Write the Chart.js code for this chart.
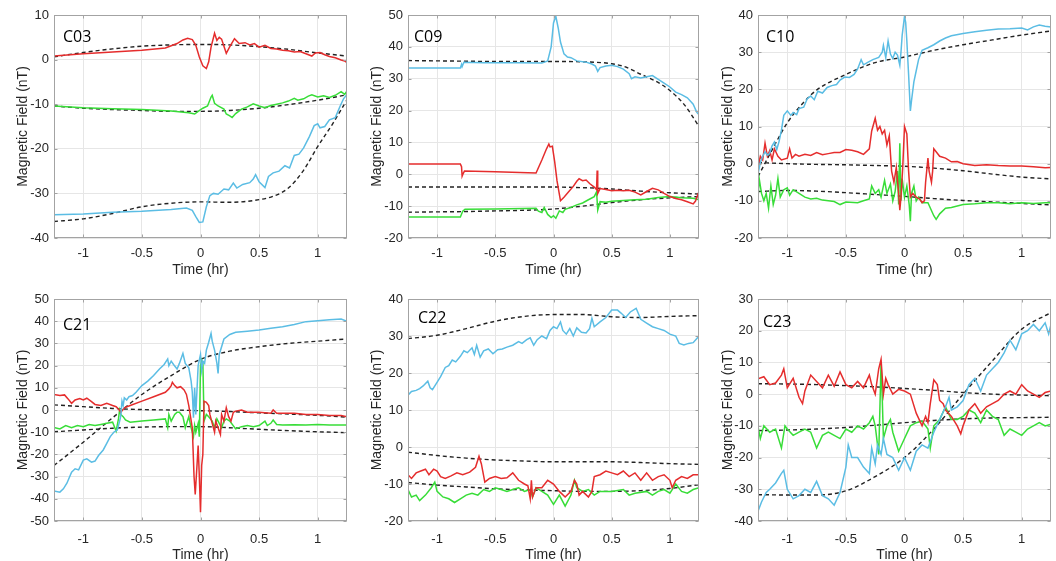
<!DOCTYPE html>
<html><head><meta charset="utf-8">
<script src="https://cdn.jsdelivr.net/npm/chart.js@4.4.1/dist/chart.umd.min.js"></script>
<style>
html,body{margin:0;padding:0;background:#fff;}
#wrap{position:relative;width:1056px;height:561px;overflow:hidden;background:#fff;}
#wrap canvas{position:absolute;}
.lbl{position:absolute;font-family:'Open Sans',sans-serif;font-size:16px;line-height:16px;color:#000;white-space:nowrap;}
</style></head><body><div id="wrap"></div>
<script>
// ---------- tick labels ----------
const xTicks = [-1, -0.5, 0, 0.5, 1];
const yTicksC03 = [-40, -30, -20, -10, 0, 10];
const yTicksC09 = [-20, -10, 0, 10, 20, 30, 40, 50];
const yTicksC10 = [-20, -10, 0, 10, 20, 30, 40];
const yTicksC21 = [-50, -40, -30, -20, -10, 0, 10, 20, 30, 40, 50];
const yTicksC22 = [-20, -10, 0, 10, 20, 30, 40];
const yTicksC23 = [-40, -30, -20, -10, 0, 10, 20, 30];
const panelNames = ['C03', 'C09', 'C10', 'C21', 'C22', 'C23'];

// ---------- C03 ----------
const c03_red = [[-1.25,0.8],[-1,1.3],[-0.75,1.7],[-0.5,2.1],[-0.3,2.6],[-0.2,3.6],[-0.15,4.4],[-0.11,4.8],[-0.07,4.5],[-0.04,3.2],[-0.01,0.6],[0.02,-1.4],[0.05,-2.0],[0.07,-0.5],[0.09,2.8],[0.12,5.9],[0.14,4.3],[0.16,5.0],[0.18,4.6],[0.2,3.0],[0.22,1.4],[0.25,2.9],[0.29,4.7],[0.33,3.6],[0.38,3.8],[0.42,3.3],[0.46,3.6],[0.5,2.8],[0.55,3.2],[0.6,2.5],[0.65,2.4],[0.7,2.1],[0.75,2.0],[0.8,1.7],[0.85,1.8],[0.9,1.3],[0.95,0.8],[0.98,1.5],[1.02,1.6],[1.06,1.1],[1.1,0.7],[1.15,0.4],[1.2,-0.1],[1.23,-0.3],[1.25,-0.7]];
const c03_green = [[-1.25,-10.4],[-1,-10.8],[-0.75,-11],[-0.5,-11.2],[-0.25,-11.5],[-0.1,-11.9],[-0.05,-12.2],[-0.02,-11.6],[0.02,-10.9],[0.06,-10.4],[0.09,-8.4],[0.1,-8.0],[0.12,-9.8],[0.15,-10.4],[0.2,-11.1],[0.22,-12.2],[0.25,-12.6],[0.27,-13.0],[0.3,-12.1],[0.35,-11.1],[0.4,-10.6],[0.45,-9.9],[0.5,-10.4],[0.55,-10.8],[0.6,-10.3],[0.65,-10.0],[0.7,-9.7],[0.75,-9.3],[0.8,-8.7],[0.83,-9.1],[0.88,-8.8],[0.92,-8.2],[0.95,-7.9],[1.0,-8.4],[1.05,-8.1],[1.1,-8.5],[1.15,-8.0],[1.2,-7.2],[1.23,-7.8],[1.25,-7.0]];
const c03_cyan = [[-1.25,-34.8],[-1,-34.6],[-0.75,-34.2],[-0.5,-34.0],[-0.25,-33.6],[-0.12,-33.3],[-0.07,-33.8],[-0.04,-35.2],[-0.01,-36.5],[0.02,-36.4],[0.05,-33.0],[0.08,-30.5],[0.11,-30.0],[0.15,-30.2],[0.2,-29.0],[0.24,-29.2],[0.28,-27.7],[0.31,-28.8],[0.36,-28.0],[0.42,-27.6],[0.45,-26.8],[0.47,-25.8],[0.5,-27.4],[0.55,-28.7],[0.58,-26.2],[0.62,-25.4],[0.67,-25.0],[0.72,-23.8],[0.76,-24.3],[0.8,-21.5],[0.84,-21.2],[0.88,-19.8],[0.93,-17.2],[0.97,-14.8],[1.0,-14.4],[1.02,-15.3],[1.06,-15.0],[1.1,-13.5],[1.15,-13.0],[1.19,-10.5],[1.22,-8.8],[1.25,-7.8]];
const c03_fitRed = [[-1.25,0.6],[-1,1.6],[-0.75,2.4],[-0.5,3.0],[-0.25,3.3],[0,3.4],[0.25,3.3],[0.5,2.9],[0.75,2.3],[1,1.5],[1.25,0.8]];
const c03_fitGreen = [[-1.25,-10.4],[-1,-10.9],[-0.75,-11.2],[-0.5,-11.4],[-0.25,-11.6],[0,-11.6],[0.25,-11.4],[0.5,-10.9],[0.75,-10.1],[1,-9.1],[1.25,-7.9]];
const c03_fitCyan = [[-1.25,-36.3],[-1,-35.7],[-0.75,-34.5],[-0.5,-33.0],[-0.25,-32.2],[0,-31.9],[0.25,-32.0],[0.5,-31.4],[0.625,-30.6],[0.75,-28.8],[0.875,-25.0],[1,-19.5],[1.125,-14.5],[1.25,-9.0]];

// ---------- C09 ----------
const c09_red = [[-1.25,3.2],[-0.8,3.2],[-0.79,2.4],[-0.785,-0.6],[-0.775,0.3],[-0.765,1.0],[-0.5,0.8],[-0.15,0.4],[-0.1,4.5],[-0.06,8.0],[-0.04,9.5],[-0.03,8.6],[-0.01,8.8],[0.01,4.0],[0.03,-2.0],[0.06,-8.3],[0.09,-7.2],[0.13,-5.5],[0.17,-3.8],[0.2,-2.2],[0.22,-1.4],[0.25,-2.0],[0.28,-1.8],[0.31,-2.9],[0.35,-4.0],[0.37,-4.8],[0.375,1.2],[0.38,-6.0],[0.4,-4.5],[0.45,-4.8],[0.5,-5.2],[0.55,-5.0],[0.6,-5.2],[0.65,-5.0],[0.7,-5.6],[0.75,-6.5],[0.8,-5.4],[0.85,-4.4],[0.9,-4.9],[0.95,-6.0],[1.0,-7.0],[1.05,-7.6],[1.1,-8.0],[1.15,-8.6],[1.2,-9.3],[1.22,-8.4],[1.25,-5.4]];
const c09_green = [[-1.25,-13.4],[-0.8,-13.4],[-0.78,-11.6],[-0.76,-11.0],[-0.5,-10.9],[-0.15,-10.7],[-0.13,-11.6],[-0.1,-12.0],[-0.08,-10.4],[-0.05,-12.6],[-0.02,-13.6],[0,-13.0],[0.02,-13.8],[0.05,-11.5],[0.08,-12.0],[0.1,-11.0],[0.15,-10.4],[0.2,-9.6],[0.25,-9.0],[0.3,-8.0],[0.35,-7.0],[0.37,-5.5],[0.38,-11.2],[0.4,-8.6],[0.45,-8.8],[0.5,-8.5],[0.6,-8.2],[0.7,-8.0],[0.8,-7.8],[0.9,-7.3],[1.0,-7.0],[1.1,-7.4],[1.2,-7.5],[1.25,-8.0]];
const c09_cyan = [[-1.25,33.4],[-0.8,33.4],[-0.79,34.5],[-0.785,33.8],[-0.77,35.2],[-0.6,35.0],[-0.3,35.0],[-0.1,34.9],[-0.05,35.6],[-0.02,40.0],[0,47.5],[0.02,49.6],[0.04,46.0],[0.06,41.5],[0.09,37.8],[0.12,36.8],[0.15,36.6],[0.2,35.6],[0.28,35.2],[0.33,34.6],[0.36,34.0],[0.38,32.3],[0.4,33.5],[0.45,34.0],[0.5,34.2],[0.55,33.8],[0.6,33.0],[0.65,31.6],[0.67,30.0],[0.7,30.6],[0.75,30.2],[0.8,30.6],[0.85,31.0],[0.9,29.8],[0.95,28.6],[1.0,27.4],[1.05,25.8],[1.1,25.0],[1.15,24.0],[1.2,22.0],[1.23,19.5],[1.25,18.7]];
const c09_fitRed = [[-1.25,-4.0],[-1,-4.0],[-0.75,-4.0],[-0.5,-4.0],[-0.25,-4.0],[0,-4.0],[0.25,-4.2],[0.5,-4.6],[0.75,-5.3],[1,-5.8],[1.25,-6.2]];
const c09_fitGreen = [[-1.25,-11.9],[-1,-11.8],[-0.75,-11.7],[-0.5,-11.5],[-0.25,-11.3],[0,-10.9],[0.25,-10.0],[0.5,-8.9],[0.75,-8.0],[1,-7.4],[1.25,-7.0]];
const c09_fitCyan = [[-1.25,35.7],[-1,35.6],[-0.75,35.5],[-0.5,35.4],[-0.25,35.4],[0,35.4],[0.25,35.3],[0.5,34.7],[0.625,33.6],[0.75,31.4],[0.875,29.3],[1,26.3],[1.125,21.8],[1.25,15.0]];

// ---------- C10 ----------
const c10_red = [[-1.25,-1.0],[-1.23,2.0],[-1.21,1.0],[-1.19,5.5],[-1.17,2.0],[-1.15,3.5],[-1.13,1.0],[-1.11,4.0],[-1.08,2.0],[-1.05,1.0],[-1.0,1.5],[-0.98,4.0],[-0.96,1.5],[-0.93,2.5],[-0.9,2.0],[-0.85,2.5],[-0.8,2.2],[-0.75,3.0],[-0.7,2.4],[-0.65,2.7],[-0.6,3.0],[-0.55,3.0],[-0.5,3.8],[-0.45,3.6],[-0.4,3.2],[-0.35,2.5],[-0.3,4.0],[-0.28,8.8],[-0.25,12.2],[-0.23,9.0],[-0.21,10.0],[-0.19,8.0],[-0.17,9.0],[-0.15,5.0],[-0.13,7.5],[-0.11,-2.0],[-0.09,-5.0],[-0.07,-1.0],[-0.05,-8.0],[-0.04,-12.5],[-0.03,-9.0],[-0.015,-1.0],[0,10.0],[0.02,8.0],[0.035,-2.0],[0.05,-9.0],[0.07,-8.0],[0.1,-9.0],[0.13,-9.5],[0.15,-10.5],[0.17,-10.0],[0.18,-5.0],[0.2,1.5],[0.21,-2.0],[0.23,-5.0],[0.24,-2.0],[0.25,4.0],[0.3,2.0],[0.35,1.5],[0.4,0.5],[0.45,0.6],[0.5,0.0],[0.6,-0.5],[0.7,-0.3],[0.8,-0.5],[0.9,-0.6],[1.0,-0.6],[1.1,-0.8],[1.2,-1.1],[1.25,-1.0]];
const c10_green = [[-1.25,-9.5],[-1.24,-4.0],[-1.22,-8.0],[-1.2,-10.0],[-1.18,-8.0],[-1.16,-12.0],[-1.14,-6.0],[-1.12,-11.0],[-1.1,-8.5],[-1.08,-4.0],[-1.06,-9.0],[-1.03,-7.0],[-1.0,-6.5],[-0.98,-8.5],[-0.95,-7.0],[-0.9,-8.0],[-0.85,-9.0],[-0.8,-9.5],[-0.75,-9.3],[-0.7,-9.8],[-0.65,-10.0],[-0.6,-10.2],[-0.55,-11.0],[-0.5,-10.3],[-0.4,-10.5],[-0.35,-10.0],[-0.3,-9.5],[-0.28,-6.0],[-0.25,-8.0],[-0.22,-7.0],[-0.2,-9.0],[-0.17,-4.5],[-0.15,-8.0],[-0.12,-5.5],[-0.1,-10.0],[-0.08,-7.5],[-0.06,-2.0],[-0.05,-11.0],[-0.04,5.5],[-0.03,-10.0],[-0.02,-4.0],[0,-9.0],[0.02,-6.0],[0.04,-11.0],[0.05,-15.5],[0.06,-8.0],[0.08,-6.0],[0.1,-10.0],[0.12,-9.0],[0.15,-10.5],[0.2,-10.5],[0.25,-14.0],[0.27,-15.0],[0.3,-13.5],[0.35,-12.0],[0.4,-11.8],[0.5,-11.0],[0.6,-10.8],[0.7,-10.5],[0.8,-10.5],[0.9,-10.8],[1.0,-10.5],[1.1,-10.7],[1.2,-10.5],[1.25,-10.5]];
const c10_cyan = [[-1.25,-2.8],[-1.23,0.3],[-1.21,2.0],[-1.19,3.2],[-1.17,2.3],[-1.15,2.8],[-1.13,4.8],[-1.11,5.8],[-1.09,3.8],[-1.07,6.0],[-1.05,9.0],[-1.03,13.0],[-1.0,14.2],[-0.97,13.0],[-0.95,13.8],[-0.92,13.2],[-0.9,14.8],[-0.86,15.2],[-0.83,17.5],[-0.8,18.2],[-0.77,17.2],[-0.74,19.5],[-0.7,19.0],[-0.66,20.5],[-0.62,21.0],[-0.58,21.3],[-0.55,22.5],[-0.51,23.3],[-0.47,23.2],[-0.43,24.0],[-0.4,25.5],[-0.37,28.0],[-0.35,26.6],[-0.31,27.3],[-0.27,28.0],[-0.22,28.6],[-0.19,30.0],[-0.18,31.8],[-0.16,28.5],[-0.14,33.0],[-0.12,29.5],[-0.1,28.3],[-0.08,30.0],[-0.06,29.2],[-0.04,26.5],[-0.03,30.0],[-0.02,34.5],[0,39.6],[0.01,38.0],[0.02,33.0],[0.035,24.0],[0.05,14.2],[0.06,17.0],[0.08,22.0],[0.1,25.0],[0.12,28.0],[0.15,30.5],[0.2,31.2],[0.25,32.0],[0.3,33.0],[0.35,33.8],[0.4,34.4],[0.5,35.0],[0.6,35.5],[0.7,35.9],[0.8,36.2],[0.9,36.3],[1.0,36.5],[1.05,36.0],[1.1,36.8],[1.15,37.3],[1.2,37.0],[1.25,36.8]];
const c10_fitRed = [[-1.25,0.3],[-1,0.0],[-0.75,-0.2],[-0.5,-0.3],[-0.25,-0.5],[0,-0.7],[0.25,-1.2],[0.5,-1.9],[0.75,-2.8],[1,-3.6],[1.25,-4.1]];
const c10_fitGreen = [[-1.25,-7.5],[-1,-7.2],[-0.75,-7.4],[-0.5,-7.8],[-0.25,-8.3],[0,-8.8],[0.25,-9.4],[0.5,-9.9],[0.75,-10.3],[1,-10.7],[1.25,-11.1]];
const c10_fitCyan = [[-1.25,-3.5],[-1.125,4.0],[-1,11.0],[-0.875,16.0],[-0.75,19.8],[-0.5,24.0],[-0.25,27.2],[0,28.7],[0.25,30.5],[0.5,32.0],[0.75,33.3],[1,34.6],[1.25,35.7]];

// ---------- C21 ----------
const c21_red = [[-1.25,7.0],[-1.2,6.5],[-1.16,6.8],[-1.13,5.0],[-1.1,3.0],[-1.07,4.5],[-1.03,5.2],[-1.0,4.5],[-0.97,5.3],[-0.93,3.8],[-0.9,2.5],[-0.85,2.0],[-0.8,3.0],[-0.75,2.0],[-0.72,1.5],[-0.7,0.5],[-0.68,-1.0],[-0.65,1.0],[-0.6,2.0],[-0.5,4.0],[-0.4,6.0],[-0.3,8.0],[-0.27,9.5],[-0.25,11.0],[-0.24,12.5],[-0.22,11.0],[-0.2,10.0],[-0.17,10.5],[-0.14,9.0],[-0.12,7.0],[-0.1,2.0],[-0.07,-8.0],[-0.055,-30.0],[-0.045,-38.0],[-0.03,-25.0],[-0.02,-16.0],[-0.01,-30.0],[0,-46.0],[0.01,-25.0],[0.02,-20.0],[0.03,4.0],[0.05,3.5],[0.07,2.0],[0.08,-2.0],[0.1,-6.0],[0.12,-10.0],[0.13,-5.0],[0.15,-8.0],[0.17,-11.0],[0.18,-2.0],[0.2,-5.0],[0.22,1.0],[0.24,-3.0],[0.26,-5.0],[0.28,-1.0],[0.3,-0.5],[0.35,0.0],[0.4,-1.0],[0.5,-1.0],[0.6,-1.5],[0.62,0.0],[0.65,-1.5],[0.7,-1.5],[0.8,-1.5],[0.9,-2.0],[1.0,-2.0],[1.1,-2.5],[1.2,-2.5],[1.25,-3.0]];
const c21_green = [[-1.25,-7.9],[-1.2,-8.5],[-1.15,-7.0],[-1.1,-8.0],[-1.05,-7.0],[-1.0,-7.5],[-0.95,-6.5],[-0.9,-7.0],[-0.85,-6.5],[-0.8,-6.0],[-0.75,-5.5],[-0.72,-9.5],[-0.7,-4.0],[-0.69,0.0],[-0.68,-2.0],[-0.66,-3.0],[-0.64,-4.5],[-0.6,-5.5],[-0.5,-5.0],[-0.4,-4.5],[-0.3,-4.0],[-0.28,-8.0],[-0.27,-2.0],[-0.25,-5.0],[-0.22,-2.0],[-0.2,-1.0],[-0.18,-1.0],[-0.15,-3.0],[-0.13,-8.0],[-0.1,-3.0],[-0.08,-8.0],[-0.06,-12.0],[-0.05,-7.0],[-0.04,-10.0],[-0.02,-6.0],[-0.01,-12.0],[0.0,20.0],[0.01,22.0],[0.015,19.0],[0.02,22.0],[0.03,-5.0],[0.05,-2.0],[0.07,-3.0],[0.1,-5.0],[0.12,-8.0],[0.14,-4.0],[0.16,-6.0],[0.18,-8.0],[0.2,-5.0],[0.22,-4.0],[0.25,-5.0],[0.3,-8.5],[0.35,-7.5],[0.4,-7.0],[0.45,-7.5],[0.5,-7.0],[0.55,-5.0],[0.57,-7.0],[0.6,-6.0],[0.62,-4.5],[0.65,-6.5],[0.7,-6.8],[0.8,-6.7],[0.9,-6.8],[1.0,-6.5],[1.1,-6.8],[1.25,-6.8]];
const c21_cyan = [[-1.25,-36.5],[-1.2,-37.0],[-1.17,-35.5],[-1.14,-33.0],[-1.1,-28.0],[-1.07,-26.5],[-1.04,-27.0],[-1.0,-22.6],[-0.97,-22.0],[-0.93,-23.5],[-0.9,-23.0],[-0.87,-20.5],[-0.83,-18.0],[-0.8,-15.0],[-0.77,-12.0],[-0.74,-10.0],[-0.71,-9.0],[-0.69,-5.0],[-0.68,-2.5],[-0.67,4.0],[-0.66,2.0],[-0.65,5.5],[-0.63,4.5],[-0.61,6.0],[-0.58,6.5],[-0.55,8.0],[-0.5,11.0],[-0.45,13.0],[-0.4,15.5],[-0.35,18.5],[-0.31,20.5],[-0.28,23.0],[-0.27,20.0],[-0.25,22.0],[-0.23,20.5],[-0.2,18.5],[-0.18,21.0],[-0.16,24.0],[-0.15,25.5],[-0.13,21.0],[-0.1,19.0],[-0.08,13.0],[-0.07,8.0],[-0.06,-3.5],[-0.05,10.0],[-0.04,-2.0],[-0.02,20.0],[0,25.0],[0.01,18.0],[0.02,22.0],[0.035,21.0],[0.05,27.0],[0.07,30.5],[0.09,34.5],[0.1,31.0],[0.12,27.0],[0.14,21.0],[0.15,16.5],[0.16,25.0],[0.2,32.0],[0.25,34.0],[0.3,35.0],[0.4,35.5],[0.5,36.0],[0.6,36.8],[0.7,37.5],[0.8,38.5],[0.9,39.8],[1.0,40.2],[1.1,40.6],[1.2,41.0],[1.25,40.0]];
const c21_fitRed = [[-1.25,2.3],[-1,1.5],[-0.75,0.7],[-0.5,0.2],[-0.25,0.0],[0,-0.3],[0.25,-0.7],[0.5,-1.3],[0.75,-1.8],[1,-2.4],[1.25,-3.2]];
const c21_fitGreen = [[-1.25,-9.8],[-1,-9.0],[-0.75,-8.2],[-0.5,-7.7],[-0.25,-7.5],[0,-7.5],[0.25,-8.0],[0.5,-8.7],[0.75,-9.3],[1,-9.8],[1.25,-10.2]];
const c21_fitCyan = [[-1.25,-25.0],[-1,-14.5],[-0.75,-3.5],[-0.5,7.0],[-0.25,15.5],[0,22.8],[0.25,26.5],[0.5,28.5],[0.75,30.0],[1,31.0],[1.25,32.0]];

// ---------- C22 ----------
const c22_red = [[-1.25,-7.5],[-1.22,-8.5],[-1.18,-7.0],[-1.14,-6.5],[-1.1,-6.0],[-1.07,-7.5],[-1.03,-6.0],[-1.0,-6.5],[-0.97,-8.0],[-0.93,-8.5],[-0.88,-7.8],[-0.83,-7.0],[-0.78,-7.5],[-0.72,-6.8],[-0.67,-5.5],[-0.64,-2.5],[-0.62,-4.5],[-0.59,-9.5],[-0.55,-8.5],[-0.5,-8.0],[-0.45,-8.5],[-0.4,-8.3],[-0.35,-7.0],[-0.3,-9.0],[-0.25,-10.0],[-0.22,-10.5],[-0.2,-14.0],[-0.19,-9.0],[-0.18,-13.5],[-0.15,-11.0],[-0.1,-11.0],[-0.05,-9.0],[0,-10.0],[0.05,-12.0],[0.1,-13.5],[0.15,-12.0],[0.18,-9.0],[0.2,-10.0],[0.22,-13.0],[0.25,-12.0],[0.3,-13.5],[0.33,-12.0],[0.35,-8.0],[0.4,-7.5],[0.45,-6.5],[0.5,-7.0],[0.55,-7.5],[0.6,-6.5],[0.65,-8.0],[0.7,-7.0],[0.75,-9.0],[0.8,-7.0],[0.85,-9.0],[0.9,-8.0],[0.95,-7.5],[1.0,-9.0],[1.02,-11.0],[1.05,-9.0],[1.1,-8.0],[1.15,-8.5],[1.2,-7.5],[1.25,-7.5]];
const c22_green = [[-1.25,-11.5],[-1.22,-13.5],[-1.18,-13.0],[-1.15,-14.5],[-1.1,-13.0],[-1.05,-11.0],[-1.02,-9.5],[-1.0,-12.0],[-0.95,-13.5],[-0.9,-14.0],[-0.85,-15.0],[-0.8,-14.0],[-0.75,-13.0],[-0.7,-12.5],[-0.65,-13.0],[-0.6,-11.5],[-0.55,-12.0],[-0.5,-11.0],[-0.45,-11.5],[-0.4,-12.0],[-0.35,-11.5],[-0.3,-11.0],[-0.25,-12.0],[-0.2,-11.5],[-0.18,-13.5],[-0.15,-11.0],[-0.1,-12.0],[-0.05,-13.0],[0,-15.5],[0.05,-13.0],[0.1,-16.0],[0.15,-13.0],[0.18,-9.0],[0.2,-11.0],[0.25,-12.0],[0.3,-11.5],[0.35,-13.0],[0.4,-12.0],[0.5,-12.0],[0.6,-11.5],[0.65,-13.0],[0.7,-12.5],[0.8,-12.0],[0.85,-13.0],[0.9,-12.0],[0.95,-11.5],[1.0,-12.5],[1.05,-10.0],[1.1,-12.0],[1.15,-12.5],[1.2,-11.5],[1.25,-11.0]];
const c22_cyan = [[-1.25,14.0],[-1.22,15.0],[-1.18,15.3],[-1.15,15.8],[-1.12,16.5],[-1.08,17.8],[-1.06,16.0],[-1.04,15.5],[-1.01,17.0],[-0.97,19.0],[-0.93,21.5],[-0.9,22.0],[-0.87,23.5],[-0.84,23.0],[-0.8,24.5],[-0.77,26.0],[-0.74,25.5],[-0.7,26.8],[-0.68,25.0],[-0.66,27.5],[-0.63,24.3],[-0.6,26.0],[-0.56,26.5],[-0.52,25.2],[-0.48,26.3],[-0.44,26.5],[-0.4,27.0],[-0.35,27.5],[-0.3,28.5],[-0.27,28.0],[-0.23,29.0],[-0.2,29.5],[-0.17,27.5],[-0.14,29.0],[-0.1,30.0],[-0.06,29.3],[-0.03,31.5],[0,32.5],[0.03,32.0],[0.06,33.8],[0.08,31.5],[0.11,30.5],[0.14,32.0],[0.17,30.0],[0.2,32.2],[0.24,31.0],[0.28,30.8],[0.31,32.0],[0.33,34.8],[0.35,32.5],[0.4,33.8],[0.45,35.0],[0.5,37.0],[0.55,37.0],[0.58,36.2],[0.62,35.0],[0.66,36.5],[0.71,37.5],[0.75,34.5],[0.8,33.5],[0.85,32.5],[0.9,32.0],[0.95,31.5],[1.0,30.5],[1.05,30.0],[1.08,28.0],[1.12,27.6],[1.16,28.0],[1.2,28.2],[1.25,30.0]];
const c22_fitRed = [[-1.25,-1.4],[-1,-2.3],[-0.75,-3.0],[-0.5,-3.5],[-0.25,-3.8],[0,-4.0],[0.25,-4.0],[0.5,-4.0],[0.75,-4.2],[1,-4.5],[1.25,-4.7]];
const c22_fitGreen = [[-1.25,-9.6],[-1,-10.3],[-0.75,-10.8],[-0.5,-11.3],[-0.25,-11.6],[0,-11.8],[0.25,-12.0],[0.5,-12.0],[0.75,-11.8],[1,-11.2],[1.25,-10.2]];
const c22_fitCyan = [[-1.25,29.3],[-1,30.2],[-0.75,32.0],[-0.5,34.0],[-0.25,35.3],[0,35.8],[0.25,35.8],[0.5,35.2],[0.75,35.0],[1,35.3],[1.25,35.5]];

// ---------- C23 ----------
const c23_red = [[-1.25,4.8],[-1.2,5.5],[-1.15,3.0],[-1.1,3.5],[-1.05,6.0],[-1.03,8.0],[-1.0,2.0],[-0.95,5.0],[-0.9,-1.0],[-0.87,-3.0],[-0.85,1.0],[-0.8,6.0],[-0.75,4.0],[-0.7,2.0],[-0.65,6.0],[-0.6,2.5],[-0.55,7.0],[-0.5,3.0],[-0.45,2.0],[-0.4,4.0],[-0.35,2.0],[-0.3,6.0],[-0.28,3.0],[-0.25,0.0],[-0.22,8.0],[-0.2,11.0],[-0.18,0.0],[-0.16,5.0],[-0.14,3.0],[-0.1,0.0],[-0.05,1.5],[0,1.0],[0.05,0.0],[0.1,-6.0],[0.15,-10.0],[0.18,-7.0],[0.2,-9.0],[0.22,-3.0],[0.25,4.5],[0.28,3.0],[0.3,-2.0],[0.33,-3.0],[0.35,-5.0],[0.4,-7.0],[0.45,-10.0],[0.48,-12.5],[0.5,-10.0],[0.55,-5.0],[0.6,-3.0],[0.65,-6.0],[0.7,-4.0],[0.75,-3.0],[0.8,-2.0],[0.85,0.0],[0.9,1.0],[0.95,0.0],[1.0,3.0],[1.05,1.0],[1.1,0.0],[1.15,-1.0],[1.2,0.5],[1.25,1.0]];
const c23_green = [[-1.25,-10.2],[-1.23,-14.0],[-1.2,-10.0],[-1.15,-12.0],[-1.1,-11.0],[-1.05,-17.0],[-1.02,-10.0],[-1.0,-11.0],[-0.95,-13.0],[-0.9,-12.0],[-0.85,-11.0],[-0.8,-12.0],[-0.75,-17.0],[-0.7,-13.0],[-0.65,-12.0],[-0.6,-13.0],[-0.55,-14.0],[-0.5,-11.0],[-0.45,-12.0],[-0.4,-10.0],[-0.35,-11.0],[-0.3,-9.0],[-0.27,-7.0],[-0.25,-10.0],[-0.22,-19.0],[-0.2,10.0],[-0.19,-1.0],[-0.18,-14.0],[-0.15,-10.0],[-0.12,-8.0],[-0.1,-12.0],[-0.05,-18.0],[0,-14.0],[0.05,-10.0],[0.1,-9.0],[0.15,-8.5],[0.2,-11.0],[0.22,-17.0],[0.25,-10.0],[0.3,-8.0],[0.35,-4.0],[0.4,-8.0],[0.45,-8.0],[0.5,-7.0],[0.55,-5.0],[0.6,-6.0],[0.65,-9.0],[0.7,-5.0],[0.75,-7.0],[0.8,-8.0],[0.85,-13.0],[0.9,-11.0],[0.95,-12.0],[1.0,-13.0],[1.05,-11.0],[1.1,-10.0],[1.15,-9.0],[1.2,-10.0],[1.25,-9.5]];
const c23_cyan = [[-1.25,-36.9],[-1.22,-34.0],[-1.18,-31.0],[-1.15,-30.0],[-1.1,-28.0],[-1.05,-25.0],[-1.03,-24.0],[-1.0,-30.0],[-0.95,-33.0],[-0.9,-32.0],[-0.85,-30.0],[-0.8,-31.0],[-0.75,-27.5],[-0.7,-32.0],[-0.65,-33.0],[-0.6,-35.0],[-0.55,-31.0],[-0.5,-23.0],[-0.48,-16.0],[-0.45,-20.0],[-0.4,-20.0],[-0.35,-23.0],[-0.3,-25.0],[-0.28,-17.0],[-0.25,-22.0],[-0.23,-16.0],[-0.2,-19.0],[-0.18,-14.0],[-0.15,-19.0],[-0.1,-20.0],[-0.05,-24.0],[0,-20.0],[0.05,-24.0],[0.1,-18.0],[0.15,-16.0],[0.2,-17.0],[0.22,-15.0],[0.25,-12.0],[0.3,-8.0],[0.35,-4.0],[0.38,-1.0],[0.4,-5.0],[0.45,-4.0],[0.5,-2.0],[0.55,3.0],[0.6,5.0],[0.65,1.0],[0.7,6.0],[0.75,8.0],[0.8,10.0],[0.85,13.0],[0.9,17.0],[0.95,14.0],[1.0,19.0],[1.05,20.0],[1.1,22.0],[1.15,20.0],[1.2,22.5],[1.23,19.0],[1.25,22.0]];
const c23_fitRed = [[-1.25,3.3],[-1,3.2],[-0.75,3.0],[-0.5,2.7],[-0.25,2.3],[0,1.8],[0.25,1.2],[0.5,0.5],[0.75,0.0],[1,-0.3],[1.25,-0.5]];
const c23_fitGreen = [[-1.25,-11.5],[-1,-11.3],[-0.75,-11.0],[-0.5,-10.5],[-0.25,-9.8],[0,-9.0],[0.25,-8.3],[0.5,-7.8],[0.75,-7.5],[1,-7.4],[1.25,-7.3]];
const c23_fitCyan = [[-1.25,-31.7],[-1,-31.8],[-0.75,-31.8],[-0.5,-30.5],[-0.25,-26.0],[0,-20.0],[0.25,-11.0],[0.5,0.0],[0.75,10.5],[1,20.5],[1.25,25.7]];

// ---------- styling / layout ----------
const RED = '#e52d2d', GREEN = '#38dd38', CYAN = '#5bbde4', FIT = '#222222';
const GRID = '#e6e6e6', FRAME = '#a3a3a3', TXT = '#262626';
const FONT = "'Liberation Sans', Arial, sans-serif";
const colLeft = [0, 352, 704];
const yAxisWidth = [54, 56, 54];
const yTitlePad = [16, 17.8, 17];
const rowCfg = [
  {top: 0, h: 280, padTop: 15, xH: 42, tickPad: 8, titlePad: 2.5},
  {top: 280, h: 281, padTop: 19, xH: 40, tickPad: 11, titlePad: -1.5}
];
const labelPos = [[63, 28], [414, 28], [766, 27.5], [63, 316], [418, 309], [763, 312.5]];

const framePlugin = {
  id: 'frame',
  afterDraw(chart) {
    const {ctx, chartArea: a, scales} = chart;
    const L = Math.round(a.left) + 0.5, R = Math.round(a.right) - 0.5;
    const T = Math.round(a.top) + 0.5, B = Math.round(a.bottom) - 0.5;
    ctx.save();
    ctx.strokeStyle = FRAME; ctx.lineWidth = 1;
    ctx.strokeRect(L, T, R - L, B - T);
    ctx.beginPath();
    scales.x.ticks.forEach(t => {
      const x = Math.round(scales.x.getPixelForValue(t.value)) + 0.5;
      ctx.moveTo(x, B); ctx.lineTo(x, B - 3);
      ctx.moveTo(x, T); ctx.lineTo(x, T + 3);
    });
    scales.y.ticks.forEach(t => {
      const y = Math.round(scales.y.getPixelForValue(t.value)) + 0.5;
      ctx.moveTo(L, y); ctx.lineTo(L + 3, y);
      ctx.moveTo(R, y); ctx.lineTo(R - 3, y);
    });
    ctx.stroke();
    ctx.restore();
  }
};

function dataLine(d, color) {
  return {data: d, borderColor: color, borderWidth: 1.5, pointRadius: 0, tension: 0, fill: false};
}
function fitLine(d) {
  return {data: d, borderColor: FIT, borderWidth: 1.4, borderDash: [4, 3], pointRadius: 0, cubicInterpolationMode: 'monotone', fill: false};
}

const panels = [
  {col: 0, row: 0, yT: yTicksC03, red: c03_red, green: c03_green, cyan: c03_cyan, fits: [c03_fitRed, c03_fitGreen, c03_fitCyan]},
  {col: 1, row: 0, yT: yTicksC09, red: c09_red, green: c09_green, cyan: c09_cyan, fits: [c09_fitRed, c09_fitGreen, c09_fitCyan]},
  {col: 2, row: 0, yT: yTicksC10, red: c10_red, green: c10_green, cyan: c10_cyan, fits: [c10_fitRed, c10_fitGreen, c10_fitCyan]},
  {col: 0, row: 1, yT: yTicksC21, red: c21_red, green: c21_green, cyan: c21_cyan, fits: [c21_fitRed, c21_fitGreen, c21_fitCyan]},
  {col: 1, row: 1, yT: yTicksC22, red: c22_red, green: c22_green, cyan: c22_cyan, fits: [c22_fitRed, c22_fitGreen, c22_fitCyan]},
  {col: 2, row: 1, yT: yTicksC23, red: c23_red, green: c23_green, cyan: c23_cyan, fits: [c23_fitRed, c23_fitGreen, c23_fitCyan]}
];

const wrap = document.getElementById('wrap');
panels.forEach((p, i) => {
  const rc = rowCfg[p.row];
  const cv = document.createElement('canvas');
  cv.width = 352; cv.height = rc.h;
  cv.style.left = colLeft[p.col] + 'px'; cv.style.top = rc.top + 'px';
  cv.style.width = '352px'; cv.style.height = rc.h + 'px';
  wrap.appendChild(cv);
  const yMin = p.yT[0], yMax = p.yT[p.yT.length - 1];
  new Chart(cv, {
    type: 'line',
    data: {datasets: [dataLine(p.cyan, CYAN), dataLine(p.red, RED), dataLine(p.green, GREEN),
                      fitLine(p.fits[0]), fitLine(p.fits[1]), fitLine(p.fits[2])]},
    options: {
      responsive: false, animation: false, events: [],
      layout: {padding: {top: rc.padTop, right: 5, left: 0, bottom: 0}},
      plugins: {legend: {display: false}, tooltip: {enabled: false}},
      scales: {
        x: {
          type: 'linear', min: -1.25, max: 1.25,
          afterBuildTicks: s => { s.ticks = xTicks.map(v => ({value: v})); },
          afterFit: s => { s.height = rc.xH; },
          grid: {color: GRID, drawTicks: false},
          border: {display: false},
          ticks: {padding: rc.tickPad, color: TXT, font: {family: FONT, size: 13}, maxRotation: 0, autoSkip: false, callback: v => String(v)},
          title: {display: true, text: 'Time (hr)', color: TXT, font: {family: FONT, size: 14, lineHeight: 1}, padding: {top: 0, bottom: rc.titlePad}}
        },
        y: {
          type: 'linear', min: yMin, max: yMax,
          afterBuildTicks: s => { s.ticks = p.yT.map(v => ({value: v})); },
          afterFit: s => { s.width = yAxisWidth[p.col]; },
          grid: {color: GRID, drawTicks: false},
          border: {display: false},
          ticks: {padding: 5, color: TXT, font: {family: FONT, size: 13}, autoSkip: false, callback: v => String(v)},
          title: {display: true, text: 'Magnetic Field (nT)', color: TXT, font: {family: FONT, size: 14, lineHeight: 1}, padding: {top: yTitlePad[p.col], bottom: 0}}
        }
      }
    },
    plugins: [framePlugin]
  });
  const lb = document.createElement('div');
  lb.className = 'lbl';
  lb.textContent = panelNames[i];
  lb.style.left = labelPos[i][0] + 'px';
  lb.style.top = labelPos[i][1] + 'px';
  wrap.appendChild(lb);
});
</script>
</body></html>
